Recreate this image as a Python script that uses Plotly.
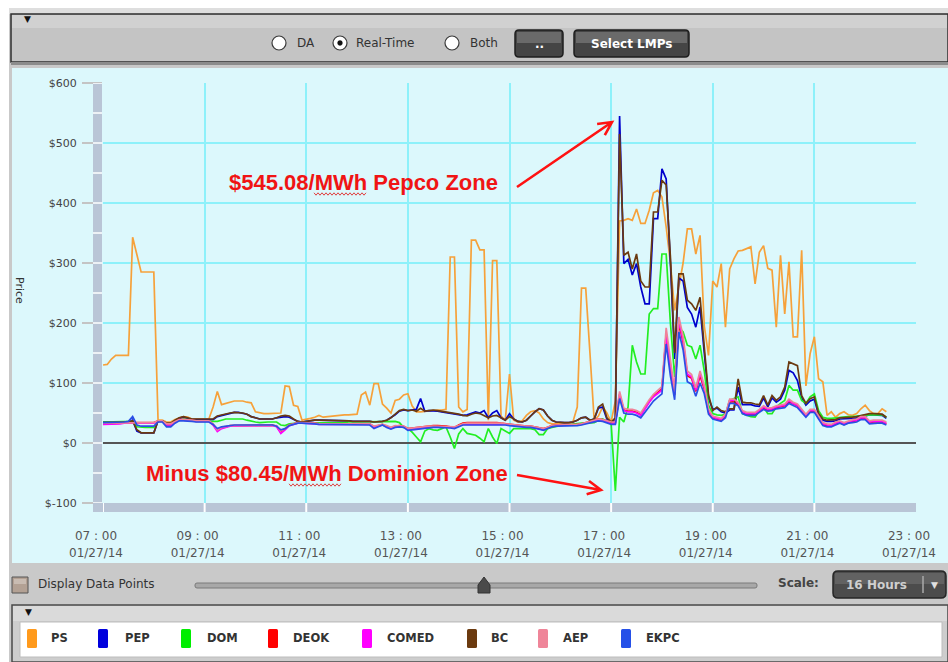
import math
import pandas as pd
import plotly.graph_objects as go

# ---------------- data (5-minute real-time LMPs, $/MWh) ----------------
start_time = "2014-01-27 07:00"
n_points = 186

series_names = ["PS", "PEP", "DOM", "DEOK", "COMED", "BC", "AEP", "EKPC"]
line_colors = ["#f6a13a", "#0000cc", "#22ee22", "#ff0000", "#ff00ff", "#6b3a10", "#ef8299", "#2a4ee6"]
swatch_colors = ["#ff9a1c", "#0000dd", "#00ee00", "#ff0000", "#ff00ff", "#6b3a0f", "#ef8599", "#2550e8"]

ps = [130, 131, 140, 146, 146, 146, 146, 343, 313, 285, 285, 285,
      285, 38, 38, 35, 35, 39, 42, 44, 43, 40, 40, 40,
      40, 40, 60, 86, 64, 66, 68, 70, 70, 70, 68, 67,
      52, 50, 49, 49, 49, 49, 50, 95, 94, 63, 61, 38,
      39, 41, 43, 46, 43, 44, 44, 45, 46, 47, 47, 47,
      48, 80, 85, 63, 99, 99, 65, 58, 50, 71, 73, 80,
      82, 62, 52, 52, 53, 54, 55, 55, 55, 56, 310, 310,
      60, 52, 56, 338, 338, 322, 322, 38, 304, 304, 45, 38,
      115, 38, 35, 37, 46, 52, 54, 50, 40, 34, 32, 32,
      32, 32, 33, 36, 60, 258, 258, 150, 38, 45, 60, 50,
      35, 70, 370, 371, 374, 371, 390, 366, 366, 388, 417, 421,
      410, 360, 300, 221, 260, 300, 357, 357, 315, 346, 195, 146,
      270, 260, 299, 193, 290, 307, 320, 321, 324, 327, 265, 318,
      329, 291, 288, 193, 313, 215, 302, 177, 177, 321, 95, 149,
      177, 107, 102, 46, 52, 43, 49, 52, 47, 46, 49, 57,
      63, 54, 49, 49, 57, 52]

pep = [35, 35, 35, 35, 35, 35, 35, 38, 20, 17, 17, 17,
       17, 37, 37, 30, 30, 37, 41, 43, 41, 39, 39, 39,
       39, 39, 39, 44, 46, 48, 50, 51, 51, 50, 48, 44,
       42, 40, 40, 40, 40, 42, 43, 44, 43, 39, 36, 35,
       36, 38, 38, 38, 38, 38, 38, 38, 38, 37, 37, 36,
       36, 36, 37, 36, 35, 35, 36, 38, 42, 47, 53, 55,
       54, 55, 56, 74, 53, 54, 54, 53, 52, 51, 50, 49,
       48, 46, 47, 50, 52, 50, 54, 42, 50, 54, 42, 38,
       49, 40, 36, 35, 38, 45, 52, 57, 55, 45, 38, 35,
       34, 34, 34, 35, 38, 42, 43, 38, 40, 58, 60, 40,
       33, 40, 545, 299, 306, 280, 299, 260, 232, 232, 374, 374,
       457, 440, 300, 140, 275, 270, 226, 215, 193, 227, 150, 75,
       56, 58, 52, 50, 55, 55, 93, 64, 64, 64, 62, 61,
       75, 60, 75, 68, 73, 88, 121, 117, 104, 75, 63, 70,
       73, 47, 38, 36, 36, 37, 40, 40, 41, 41, 42, 44,
       46, 47, 47, 47, 46, 41]

dom = [35, 35, 35, 35, 35, 35, 35, 36, 27, 26, 26, 26,
       26, 36, 36, 31, 31, 35, 38, 40, 39, 37, 36, 36,
       36, 36, 36, 36, 38, 40, 40, 40, 40, 40, 38, 36,
       35, 34, 35, 35, 35, 35, 30, 29, 32, 33, 33, 33,
       33, 34, 34, 34, 34, 34, 34, 34, 34, 34, 35, 35,
       36, 36, 36, 36, 36, 36, 36, 36, 36, 36, 34, 26,
       24, 18, 10, 2, 20, 24, 22, 21, 24, 27, 10, -9,
       15, 24, 16, 14, 13, 8, 2, 24, 10, -1, 24, 20,
       16, 24, 24, 24, 24, 24, 22, 14, 14, 24, 26, 28,
       29, 30, 31, 32, 32, 33, 33, 33, 34, 38, 40, 36,
       33, -80, 43, 35, 60, 163, 135, 115, 115, 215, 224, 224,
       315, 315, 200, 110, 193, 185, 163, 160, 140, 163, 120, 63,
       49, 47, 46, 48, 71, 74, 77, 49, 46, 44, 43, 54,
       60, 49, 49, 60, 66, 71, 96, 88, 88, 71, 66, 77,
       82, 54, 43, 41, 41, 42, 43, 43, 44, 44, 45, 46,
       46, 47, 47, 47, 47, 43]

deok = [32, 32, 32, 33, 33, 34, 34, 34, 34, 34, 34, 34,
        34, 37, 37, 31, 31, 36, 39, 39, 39, 38, 37, 37,
        37, 37, 31, 21, 25, 27, 29, 29, 29, 29, 30, 30,
        30, 30, 30, 30, 30, 28, 18, 23, 30, 32, 34, 34,
        34, 33, 33, 32, 32, 32, 32, 32, 32, 32, 32, 32,
        33, 33, 32, 32, 27, 29, 31, 28, 25, 28, 29, 28,
        24, 25, 26, 27, 27, 29, 29, 29, 29, 28, 27, 26,
        30, 33, 34, 34, 35, 35, 35, 34, 34, 34, 33, 32,
        31, 30, 29, 29, 28, 28, 27, 25, 24, 26, 29, 30,
        30, 30, 30, 31, 31, 32, 34, 36, 38, 40, 39, 37,
        34, 34, 80, 55, 53, 53, 51, 47, 59, 69, 78, 84,
        90, 180, 125, 80, 200, 168, 112, 108, 86, 112, 90, 52,
        42, 40, 38, 45, 68, 69, 64, 51, 48, 48, 48, 53,
        59, 55, 56, 59, 61, 62, 69, 65, 62, 53, 45, 53,
        53, 42, 31, 29, 28, 32, 34, 31, 34, 36, 37, 41,
        41, 34, 35, 35, 35, 32]

comed = [31, 31, 31, 32, 32, 33, 33, 33, 33, 33, 33, 33,
         33, 36, 36, 30, 30, 35, 38, 38, 38, 37, 36, 36,
         36, 36, 30, 19, 24, 26, 28, 28, 28, 28, 29, 29,
         29, 29, 29, 29, 29, 27, 16, 22, 29, 31, 33, 33,
         33, 32, 32, 31, 31, 31, 31, 31, 31, 31, 31, 31,
         32, 32, 31, 31, 26, 28, 30, 27, 24, 27, 28, 27,
         22, 23, 24, 25, 25, 27, 27, 27, 27, 27, 26, 25,
         28, 31, 31, 31, 32, 32, 32, 32, 32, 32, 32, 31,
         30, 29, 28, 28, 27, 27, 26, 24, 22, 25, 28, 29,
         29, 29, 29, 30, 30, 31, 33, 35, 37, 39, 38, 36,
         33, 33, 82, 54, 52, 52, 50, 46, 58, 68, 77, 82,
         88, 182, 127, 82, 204, 171, 115, 110, 88, 116, 93, 54,
         43, 41, 39, 46, 71, 71, 66, 52, 49, 49, 49, 54,
         60, 56, 57, 60, 62, 63, 71, 66, 63, 54, 46, 54,
         54, 43, 32, 30, 29, 33, 35, 32, 35, 37, 38, 42,
         42, 35, 36, 36, 36, 33]

bc = [34, 34, 34, 34, 35, 35, 35, 37, 22, 17, 17, 17,
      17, 37, 37, 33, 33, 38, 42, 44, 42, 40, 40, 40,
      40, 40, 40, 45, 47, 48, 50, 51, 51, 50, 48, 44,
      42, 40, 40, 40, 40, 42, 45, 46, 45, 40, 36, 35,
      36, 38, 38, 38, 38, 38, 38, 38, 38, 37, 37, 36,
      36, 36, 37, 36, 35, 35, 36, 38, 42, 48, 54, 56,
      54, 55, 53, 58, 53, 54, 55, 54, 53, 52, 50, 49,
      48, 46, 45, 48, 50, 49, 45, 42, 45, 46, 42, 38,
      44, 40, 36, 35, 38, 45, 52, 57, 55, 45, 38, 35,
      34, 34, 34, 35, 38, 42, 43, 38, 40, 60, 65, 42,
      35, 42, 515, 313, 318, 290, 315, 270, 260, 260, 385, 385,
      438, 430, 310, 150, 282, 282, 238, 232, 221, 243, 160, 80,
      54, 60, 54, 52, 57, 57, 107, 68, 67, 67, 65, 64,
      79, 63, 79, 71, 77, 93, 135, 132, 129, 79, 66, 74,
      77, 49, 40, 38, 38, 39, 42, 42, 43, 43, 44, 46,
      48, 49, 49, 49, 48, 43]

aep = [33, 33, 33, 33, 33, 34, 34, 34, 34, 34, 34, 34,
       34, 37, 37, 32, 32, 36, 39, 39, 39, 38, 37, 37,
       37, 37, 32, 22, 26, 28, 29, 29, 29, 29, 30, 30,
       30, 30, 30, 30, 30, 29, 20, 24, 30, 32, 34, 34,
       34, 33, 33, 32, 32, 32, 32, 32, 32, 32, 32, 32,
       33, 33, 32, 32, 28, 29, 31, 29, 26, 29, 29, 28,
       24, 25, 26, 27, 27, 28, 28, 28, 28, 28, 27, 27,
       29, 32, 33, 33, 34, 34, 34, 33, 33, 33, 33, 32,
       31, 30, 29, 29, 28, 28, 27, 26, 24, 26, 29, 30,
       30, 30, 30, 31, 31, 32, 34, 36, 38, 40, 39, 37,
       35, 35, 86, 58, 56, 56, 54, 50, 62, 72, 81, 88,
       94, 192, 134, 86, 210, 178, 120, 114, 92, 120, 96, 56,
       45, 43, 41, 48, 73, 73, 68, 54, 51, 51, 51, 56,
       62, 58, 59, 62, 64, 65, 73, 68, 65, 56, 48, 56,
       56, 45, 34, 32, 31, 35, 37, 34, 37, 39, 40, 44,
       44, 37, 38, 38, 38, 35]

ekpc = [34, 34, 34, 34, 34, 35, 36, 44, 30, 28, 28, 28,
        28, 35, 35, 27, 27, 33, 37, 37, 37, 36, 35, 35,
        35, 35, 31, 24, 27, 28, 30, 30, 30, 30, 30, 30,
        30, 30, 30, 30, 30, 28, 22, 24, 29, 31, 33, 33,
        33, 32, 32, 31, 31, 31, 31, 31, 31, 31, 31, 31,
        31, 31, 30, 30, 24, 27, 30, 26, 23, 26, 27, 26,
        21, 22, 23, 24, 24, 26, 26, 26, 26, 26, 25, 24,
        27, 30, 30, 30, 31, 31, 31, 31, 31, 31, 31, 30,
        29, 28, 27, 27, 26, 26, 25, 23, 21, 24, 27, 28,
        28, 28, 28, 29, 29, 30, 32, 34, 36, 37, 36, 34,
        31, 31, 74, 50, 48, 48, 46, 42, 52, 62, 70, 76,
        82, 165, 112, 72, 185, 155, 102, 98, 78, 100, 82, 48,
        40, 38, 36, 42, 66, 66, 62, 49, 46, 46, 46, 51,
        56, 53, 54, 57, 58, 59, 66, 62, 59, 51, 43, 51,
        51, 40, 29, 27, 27, 30, 33, 30, 33, 34, 35, 39,
        39, 32, 33, 33, 33, 30]

series_values = [ps, pep, dom, deok, comed, bc, aep, ekpc]
for nm, s in zip(series_names, series_values):
    assert len(s) == n_points, (nm, len(s))

tick_times = ["2014-01-27 07:00", "2014-01-27 09:00", "2014-01-27 11:00", "2014-01-27 13:00",
              "2014-01-27 15:00", "2014-01-27 17:00", "2014-01-27 19:00", "2014-01-27 21:00",
              "2014-01-27 23:00"]
hour_labels = ["07 : 00", "09 : 00", "11 : 00", "13 : 00", "15 : 00", "17 : 00", "19 : 00", "21 : 00", "23 : 00"]
date_labels = ["01/27/14", "01/27/14", "01/27/14", "01/27/14", "01/27/14", "01/27/14", "01/27/14", "01/27/14", "01/27/14"]
y_tickvals = [-100, 0, 100, 200, 300, 400, 500, 600]
y_ticktext = ["$-100", "$0", "$100", "$200", "$300", "$400", "$500", "$600"]
y_minor_vals = [-50, 50, 150, 250, 350, 450, 550]

times = pd.date_range(start_time, periods=n_points, freq="5min")

# ---------------- geometry helpers (page pixel -> paper) ----------------
# The page body margin is removed (post_script below), so figure pixels == page pixels.
OFF = 0
PAGE_W, PAGE_H = 948, 662
W, H = PAGE_W - OFF, PAGE_H - OFF
PL, PR, PT, PB = 103, 916, 83, 503          # plot area in page pixels


def px(x):
    return (x - PL) / (PR - PL)


def py(y):
    return (PB - y) / (PB - PT)


shapes = []
annotations = []
NOLINE = dict(color="rgba(0,0,0,0)", width=0)


def rect(x0, y0, x1, y1, fill, line=None, lw=0, layer="below"):
    shapes.append(dict(type="rect", xref="paper", yref="paper",
                       x0=px(x0), x1=px(x1), y0=py(y1), y1=py(y0),
                       fillcolor=fill, layer=layer,
                       line=dict(color=line, width=lw) if line else NOLINE))


def rrect(x0, y0, x1, y1, r, fill, line=None, lw=0, layer="above"):
    p = (f"M{px(x0 + r)},{py(y0)} L{px(x1 - r)},{py(y0)} Q{px(x1)},{py(y0)} {px(x1)},{py(y0 + r)} "
         f"L{px(x1)},{py(y1 - r)} Q{px(x1)},{py(y1)} {px(x1 - r)},{py(y1)} "
         f"L{px(x0 + r)},{py(y1)} Q{px(x0)},{py(y1)} {px(x0)},{py(y1 - r)} "
         f"L{px(x0)},{py(y0 + r)} Q{px(x0)},{py(y0)} {px(x0 + r)},{py(y0)} Z")
    shapes.append(dict(type="path", xref="paper", yref="paper", path=p, fillcolor=fill, layer=layer,
                       line=dict(color=line, width=lw) if line else NOLINE))


def circle(cx, cy, r, fill, line, lw, layer="above"):
    shapes.append(dict(type="circle", xref="paper", yref="paper",
                       x0=px(cx - r), x1=px(cx + r), y0=py(cy + r), y1=py(cy - r),
                       fillcolor=fill, line=dict(color=line, width=lw), layer=layer))


def seg(x0, y0, x1, y1, color, lw, layer="above"):
    shapes.append(dict(type="line", xref="paper", yref="paper",
                       x0=px(x0), y0=py(y0), x1=px(x1), y1=py(y1),
                       line=dict(color=color, width=lw), layer=layer))


def text(x, y, s, size=12, color="#333333", bold=False, anchor="left", family="DejaVu Sans", angle=0):
    annotations.append(dict(xref="paper", yref="paper", x=px(x), y=py(y),
                            text=f"<b>{s}</b>" if bold else s, showarrow=False,
                            xanchor=anchor, yanchor="middle", textangle=angle,
                            borderpad=0, font=dict(size=size, color=color, family=family)))


def arrow(tx, ty, hx, hy, color="#ff1212", lw=2.6, wing=15, ang=27):
    a = math.atan2(hy - ty, hx - tx)
    w1 = (hx - wing * math.cos(a - math.radians(ang)), hy - wing * math.sin(a - math.radians(ang)))
    w2 = (hx - wing * math.cos(a + math.radians(ang)), hy - wing * math.sin(a + math.radians(ang)))
    p = (f"M{px(tx)},{py(ty)} L{px(hx)},{py(hy)} "
         f"M{px(w1[0])},{py(w1[1])} L{px(hx)},{py(hy)} L{px(w2[0])},{py(w2[1])}")
    shapes.append(dict(type="path", xref="paper", yref="paper", path=p,
                       line=dict(color=color, width=lw), layer="above"))


def squiggle(x0, x1, y, color="#e04040"):
    pts = []
    x = x0
    k = 0
    while x <= x1:
        pts.append((x, y + (1.2 if k % 2 else -1.2)))
        x += 2
        k += 1
    p = "M" + " L".join(f"{px(a)},{py(b)}" for a, b in pts)
    shapes.append(dict(type="path", xref="paper", yref="paper", path=p,
                       line=dict(color=color, width=1), layer="above"))


# ---------------- frame / toolbar ----------------
rect(9, 8, 948, 662, "#c9c9c9")
rect(9, 8, 948, 14, "#dedede")
rect(11, 14, 948, 62, "#c4c4c4", "#2e2e2e", 1.5)
rect(12, 15, 947, 28, "#d1d1d1")
rect(11, 62, 948, 65, "#8c8c8c")
rect(12, 68, 948, 563, "#dcf8fc")

text(27, 19, "▼", size=9, color="#111111", anchor="center")

for cx in (279, 340, 452):
    circle(cx, 43, 7, "#ffffff", "#3a3a3a", 1.2)
circle(340, 43, 2.4, "#111111", "#111111", 0.5)
text(296, 43, "DA", size=12, color="#333333")
text(355, 43, "Real-Time", size=12, color="#333333")
text(469, 43, "Both", size=12, color="#333333")

for (bx0, bx1, label) in ((515, 563, ".."), (574, 689, "Select LMPs")):
    rrect(bx0, 30, bx1, 57, 4, "#454545", "#1e1e1e", 1.5)
    rect(bx0 + 2, 32, bx1 - 2, 43, "#6a6a6a", layer="above")
    text((bx0 + bx1) / 2, 44, label, size=12, color="#ffffff", bold=True, anchor="center")

# ---------------- axis decoration bars ----------------
shapes.append(dict(type="rect", xref="paper", yref="paper", x0=px(93), x1=px(102),
                   y0=py(512), y1=py(83), fillcolor="#b9c5d6", line=NOLINE, layer="above"))
shapes.append(dict(type="rect", xref="paper", yref="paper", x0=px(93), x1=px(916),
                   y0=py(512), y1=py(503), fillcolor="#b9c5d6", line=NOLINE, layer="above"))
for v in y_minor_vals + y_tickvals:
    shapes.append(dict(type="line", xref="paper", yref="y", x0=px(93), x1=px(102), y0=v, y1=v,
                       line=dict(color="#ffffff", width=1.5), layer="above"))
for t in tick_times[:-1]:
    shapes.append(dict(type="line", xref="x", yref="paper", x0=t, x1=t, y0=py(512), y1=py(503),
                       line=dict(color="#ffffff", width=2), layer="above"))

text(20, 290, "Price", size=11, color="#333333", anchor="center", angle=90)

# ---------------- bottom controls ----------------
rect(12, 577, 28, 593, "#b3a194", "#555555", 1, layer="above")
rect(14, 579, 26, 584, "#c9bcb2", layer="above")
text(37, 584, "Display Data Points", size=12, color="#333333")
rrect(195, 583, 757, 588, 2, "#a8a8a8", "#7a7a7a", 1)
shapes.append(dict(type="path", xref="paper", yref="paper",
                   path=(f"M{px(478)},{py(593)} L{px(490)},{py(593)} L{px(490)},{py(585)} "
                         f"L{px(484)},{py(577)} L{px(478)},{py(585)} Z"),
                   fillcolor="#4a4a4a", line=dict(color="#333333", width=1), layer="above"))
text(777, 583, "Scale:", size=12, color="#444444", bold=True)
rrect(833, 571, 946, 598, 5, "#4c4c4c", "#262626", 1.5)
rect(835, 573, 944, 584, "#626262", layer="above")
text(876, 585, "16 Hours", size=12, color="#cfcfcf", bold=True, anchor="center")
seg(923, 576, 923, 593, "#aaaaaa", 1.5)
text(935, 585, "▼", size=9, color="#e0e0e0", anchor="center")

# ---------------- legend panel ----------------
rect(12, 605, 948, 662, "#cdcdcd", "#4a4a4a", 1.5, layer="above")
rect(13, 606, 947, 621, "#dadada", layer="above")
rect(20, 622, 942, 657, "#ffffff", "#bdbdbd", 1, layer="above")
text(28, 612, "▼", size=9, color="#111111", anchor="center")
legend_swatch_x = [27, 98, 181, 268, 362, 467, 538, 621]
legend_text_x = [50, 124, 206, 292, 386, 490, 562, 645]
for nm, col, sx, tx in zip(series_names, swatch_colors, legend_swatch_x, legend_text_x):
    rrect(sx, 629, sx + 10, 648, 1.5, col)
    text(tx, 638, nm, size=11.5, color="#333333", bold=True)

# ---------------- red call-outs ----------------
text(228, 182, "$545.08/MWh Pepco Zone", size=22, color="#f01414", bold=True, family="Liberation Sans")
text(145, 473, "Minus $80.45/MWh Dominion Zone", size=22, color="#f01414", bold=True, family="Liberation Sans")
squiggle(314, 366, 194)
squiggle(289, 341, 485)
arrow(517, 187, 612, 122)
arrow(517, 475, 601, 490)

# ---------------- traces ----------------
fig = go.Figure()
for nm, col, vals in zip(series_names, line_colors, series_values):
    fig.add_trace(go.Scatter(x=times, y=vals, name=nm, mode="lines",
                             line=dict(color=col, width=1.7), hoverinfo="skip", showlegend=False))
fig.add_trace(go.Scatter(x=[], y=[], xaxis="x2", yaxis="y", showlegend=False, hoverinfo="skip"))

axis_font = dict(family="DejaVu Sans", size=12, color="#555555")
fig.update_layout(
    template="none",
    width=W, height=H,
    margin=dict(l=PL - OFF, r=PAGE_W - PR, t=PT - OFF, b=PAGE_H - PB, pad=0),
    paper_bgcolor="#ffffff",
    plot_bgcolor="#dcf8fc",
    font=dict(family="DejaVu Sans", size=11, color="#333333"),
    showlegend=False,
    xaxis=dict(type="date", range=[tick_times[0], tick_times[-1]],
               tickmode="array", tickvals=tick_times, ticktext=hour_labels,
               showgrid=True, gridcolor="#8df1fa", gridwidth=1.5,
               zeroline=False, showline=False,
               ticks="outside", ticklen=22, tickcolor="rgba(0,0,0,0)",
               ticklabelshift=-7, tickfont=axis_font, automargin=False),
    xaxis2=dict(type="date", overlaying="x", matches="x", anchor="y", side="bottom",
                range=[tick_times[0], tick_times[-1]],
                tickmode="array", tickvals=tick_times, ticktext=date_labels,
                showgrid=False, zeroline=False, showline=False,
                ticks="outside", ticklen=39, tickcolor="rgba(0,0,0,0)",
                ticklabelshift=-7, tickfont=axis_font, automargin=False),
    yaxis=dict(range=[-100, 600], tickmode="array", tickvals=y_tickvals, ticktext=y_ticktext,
               showgrid=True, gridcolor="#8df1fa", gridwidth=1.5,
               zeroline=True, zerolinecolor="#555555", zerolinewidth=2,
               showline=False, ticks="outside", ticklen=20, tickcolor="#c4c4c4", tickwidth=1.5,
               ticklabelstandoff=3,
               tickfont=dict(family="DejaVu Sans", size=11, color="#444444"), automargin=False),
    shapes=shapes,
    annotations=annotations,
)

# remove the default page margin so the figure fills the window exactly; hide the modebar
fig.write_html("out.html",
               config={"displayModeBar": False},
               post_script="document.body.style.margin='0';"
                           "document.documentElement.style.overflow='hidden';"
                           "document.body.style.overflow='hidden';")
